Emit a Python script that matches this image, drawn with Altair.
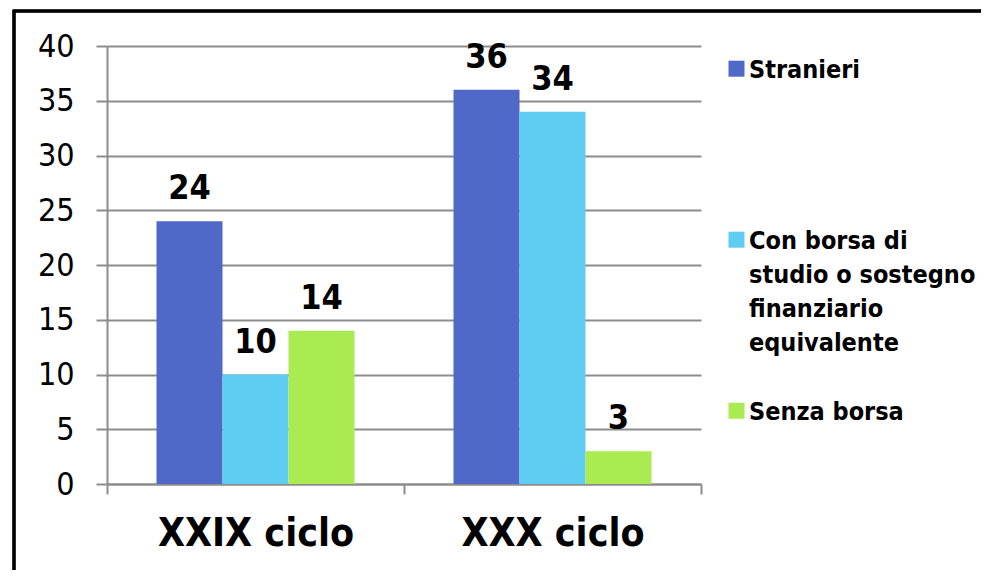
import altair as alt
import pandas as pd

categories = ["XXIX ciclo", "XXX ciclo"]
series = ["Stranieri", "Con borsa di studio o sostegno finanziario equivalente", "Senza borsa"]
values_xxix = [24, 10, 14]
values_xxx = [36, 34, 3]
colors = ["#5068C8", "#5FCDF2", "#A9EB50"]

rows = []
for cat, vals in zip(categories, [values_xxix, values_xxx]):
    for s, v in zip(series, vals):
        rows.append({"cat": cat, "series": s, "value": v})
df = pd.DataFrame(rows)

FONT = "DejaVu Sans Condensed"
GRID = "#8C8C8C"

x_enc = alt.X("cat:N", sort=categories, title=None,
              scale=alt.Scale(paddingInner=0, paddingOuter=0),
              axis=alt.Axis(labelFont=FONT, labelFontSize=39, labelFontWeight="bold",
                            labelColor="black", labelAngle=0, labelPadding=20, labelLimit=400,
                            domainColor=GRID, tickColor=GRID, tickSize=10,
                            tickBand="extent", domainWidth=2, tickWidth=2))
xo_enc = alt.XOffset("series:N", sort=series,
                     scale=alt.Scale(paddingInner=0, paddingOuter=0.75))
y_enc = alt.Y("value:Q", title=None, scale=alt.Scale(domain=[0, 40], nice=False),
              axis=alt.Axis(values=list(range(0, 41, 5)), labelFont=FONT, labelFontSize=32,
                            labelColor="black", labelPadding=22, tickSize=11,
                            tickColor=GRID, domainColor=GRID, gridColor=GRID,
                            gridWidth=2, domainWidth=2, tickWidth=2))

# wrap the long legend entry; trailing blank lines give the entries the reference's even spacing
legend_expr = (
    "datum.label == 'Con borsa di studio o sostegno finanziario equivalente' ? "
    "['Con borsa di', 'studio o sostegno', 'finanziario', 'equivalente'] : "
    "datum.label == 'Stranieri' ? ['Stranieri', '', '', ''] : datum.label"
)

# square swatch, nudged down so that it sits beside the first text line
swatch = "M-1,0.4H1V2.4H-1Z"

bars = alt.Chart(df).mark_bar().encode(
    x=x_enc, xOffset=xo_enc, y=y_enc,
    color=alt.Color("series:N", sort=series,
                    scale=alt.Scale(domain=series, range=colors),
                    legend=alt.Legend(title=None, orient="none", legendX=617, legendY=-1,
                                      symbolType=swatch, symbolSize=256, symbolStrokeWidth=0,
                                      labelFont=FONT, labelFontSize=25, labelFontWeight="bold",
                                      labelColor="black", labelLimit=400, labelOffset=0,
                                      rowPadding=31, labelBaseline="top",
                                      labelExpr=legend_expr)),
)

labels = alt.Chart(df).mark_text(baseline="alphabetic", dy=-22, font=FONT, fontSize=34,
                                 fontWeight="bold", color="black").encode(
    x=alt.X("cat:N", sort=categories), xOffset=xo_enc, y=alt.Y("value:Q"),
    text=alt.Text("value:Q"),
)

frame = alt.Chart(df).mark_rect(fill=None, stroke="black", strokeWidth=2.5, clip=False).encode(
    x=alt.value(-93), x2=alt.value(900), y=alt.value(-35), y2=alt.value(600)
)

chart = alt.layer(frame, bars, labels).properties(
    width=594, height=438,
    autosize=alt.AutoSizeParams(type="none"),
    padding={"left": 99, "top": 38, "right": 280, "bottom": 86},
    background="white",
).configure(style={"guide-label": {"lineHeight": 34}}).configure_view(stroke=None)

chart.save("out.html", embed_options={"renderer": "svg", "actions": False})
